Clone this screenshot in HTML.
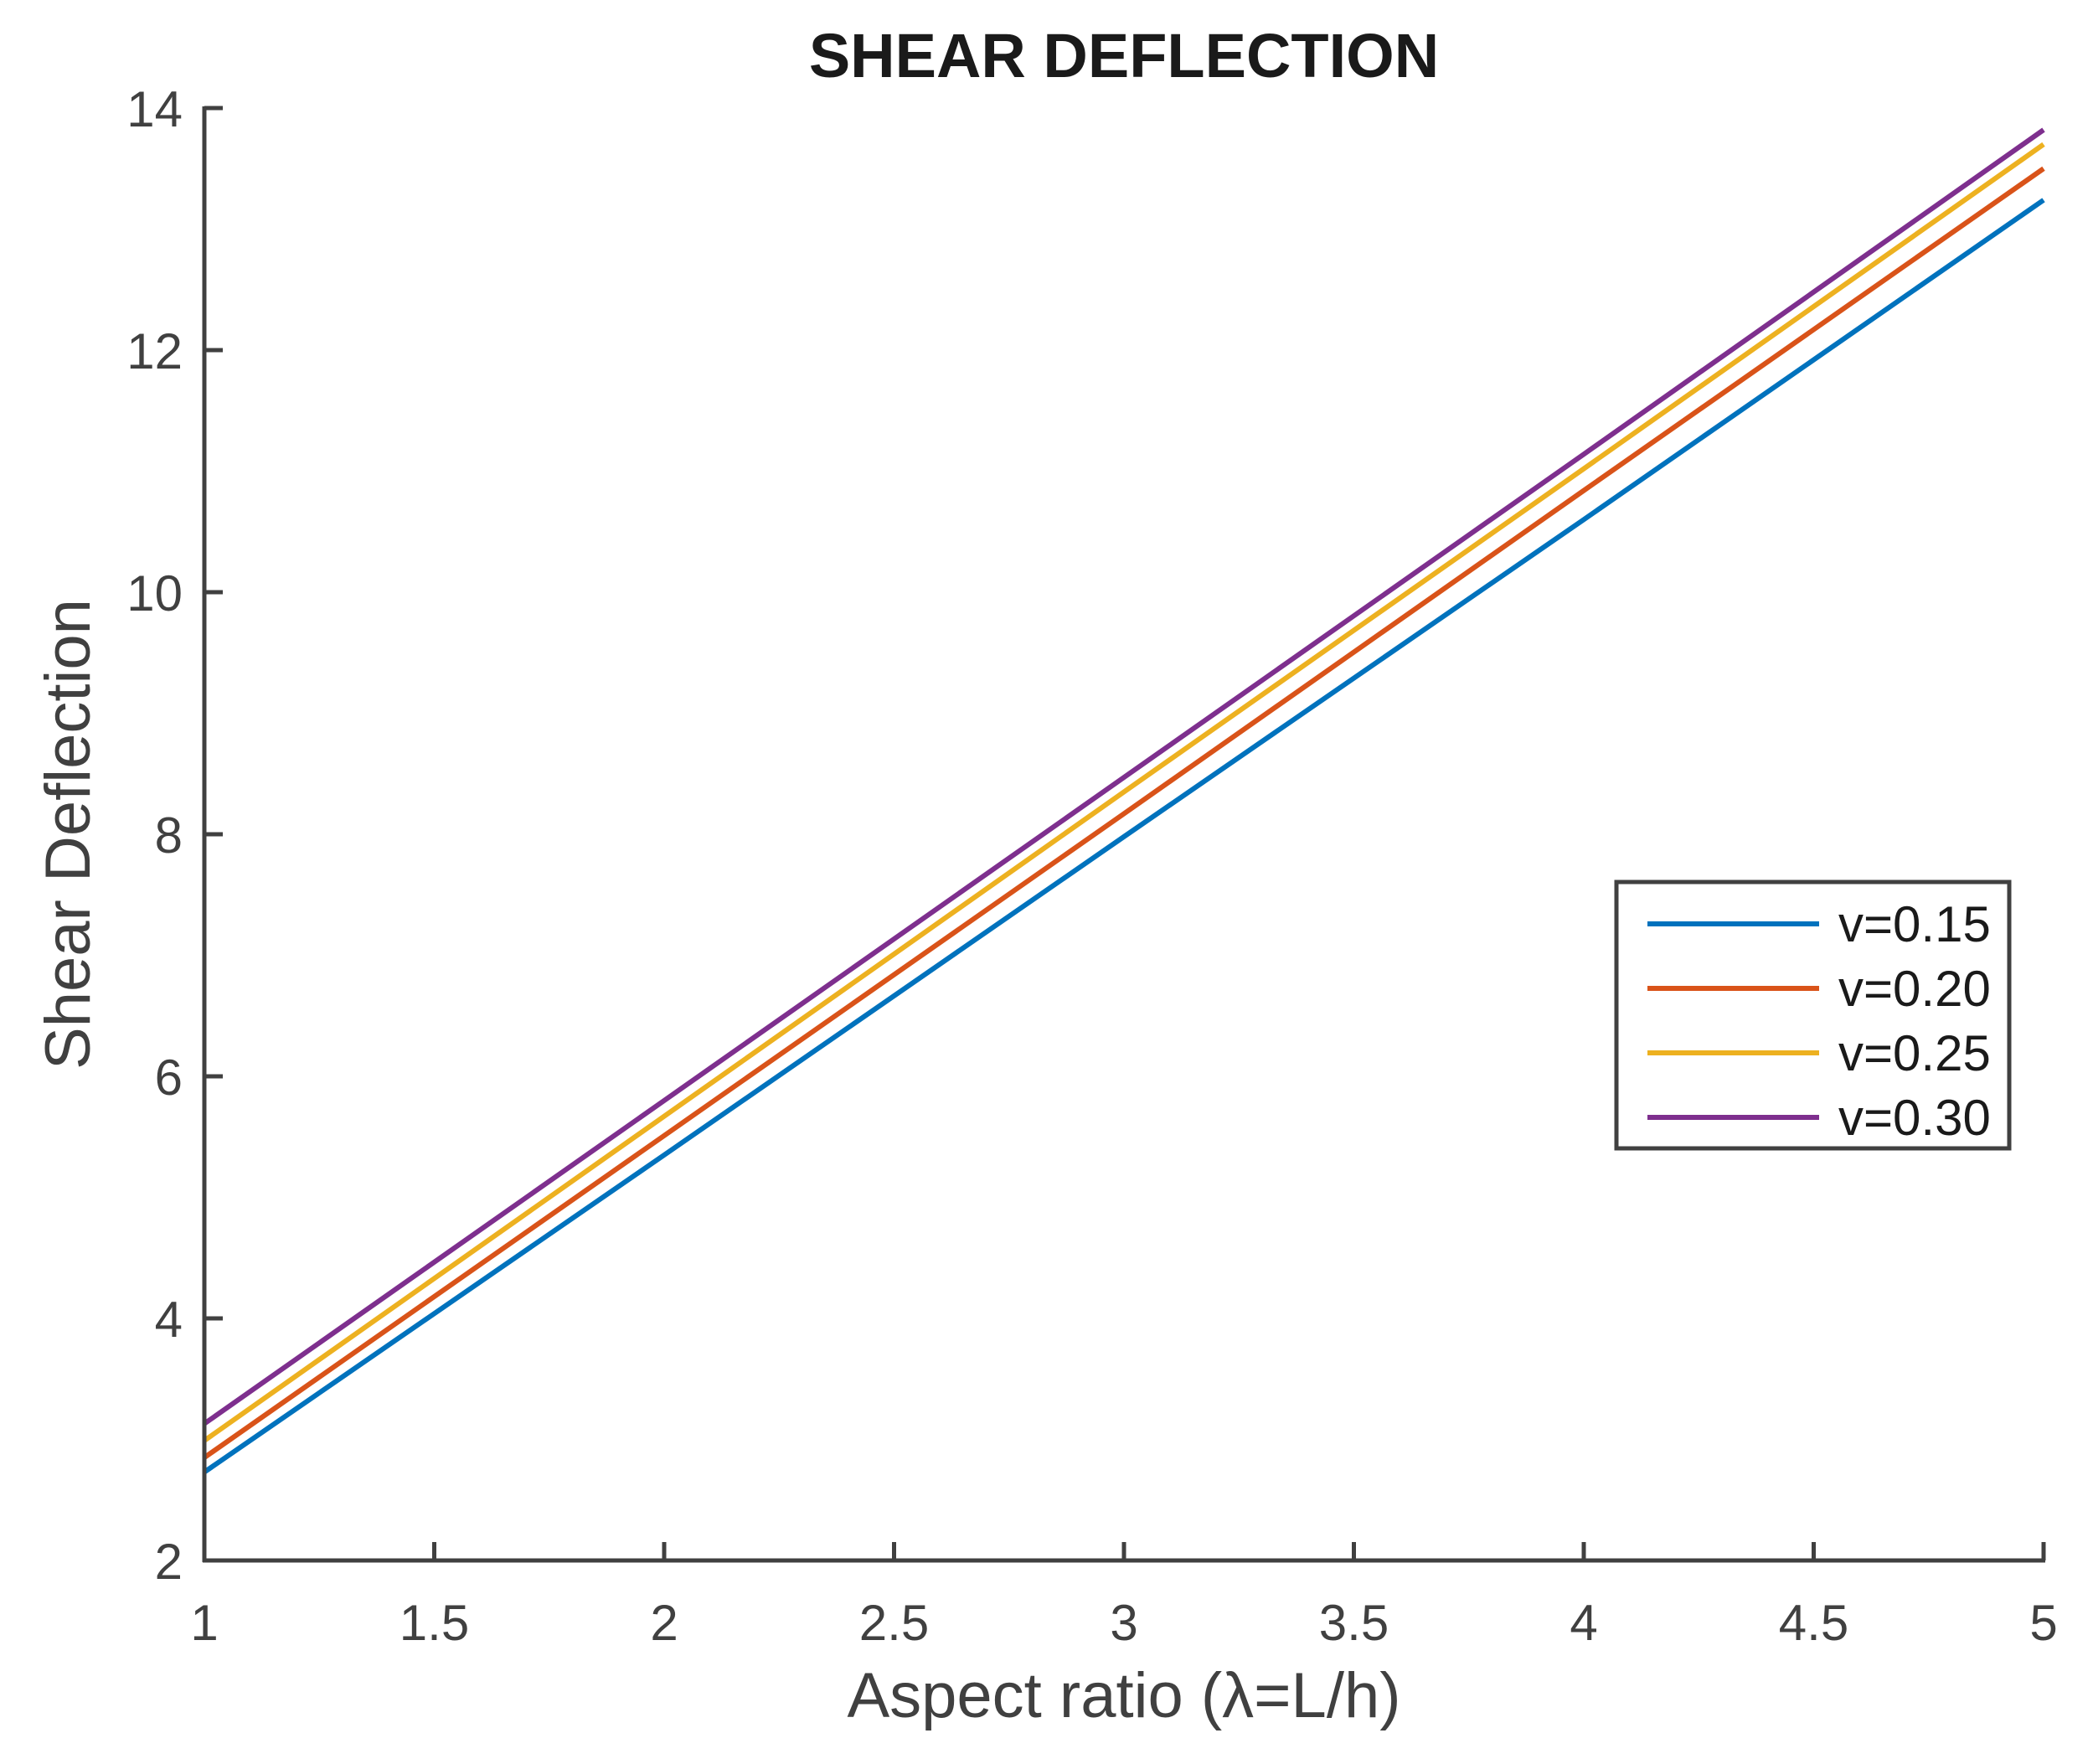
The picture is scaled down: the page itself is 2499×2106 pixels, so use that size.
<!DOCTYPE html>
<html><head><meta charset="utf-8"><style>
html,body{margin:0;padding:0;background:#fff;}
svg{display:block;font-family:"Liberation Sans",Arial,sans-serif;}
</style></head><body>
<svg id="chart" width="2499" height="2106" viewBox="0 0 2499 2106" xmlns="http://www.w3.org/2000/svg">
<rect width="2499" height="2106" fill="#fff"/>
<text x="1342" y="92" text-anchor="middle" font-size="74" font-weight="bold" fill="#1a1a1a">SHEAR DEFLECTION</text>
<text x="1342" y="2050" text-anchor="middle" font-size="76" fill="#404040">Aspect ratio (λ=L/h)</text>
<text transform="translate(107,996) rotate(-90)" text-anchor="middle" font-size="76" fill="#404040">Shear Deflection</text>
<g id="plot"></g>
</svg>
<script>
const xVals = [1, 2, 3, 4, 5];
const seriesNames = ["v=0.15", "v=0.20", "v=0.25", "v=0.30"];
const s015 = [2.73, 5.35, 7.98, 10.60, 13.24];
const s020 = [2.85, 5.51, 8.17, 10.84, 13.50];
const s025 = [2.99, 5.67, 8.35, 11.02, 13.70];
const s030 = [3.13, 5.80, 8.47, 11.14, 13.82];
const xTicks = [1, 1.5, 2, 2.5, 3, 3.5, 4, 4.5, 5];
const yTicks = [2, 4, 6, 8, 10, 12, 14];

const colors = ["#0072BD", "#D95319", "#EDB120", "#7E2F8E"];
const series = [s015, s020, s025, s030];
const L = 244, R = 2440, T = 129, B = 1863;
const xMin = 1, xMax = 5, yMin = 2, yMax = 14;
const xs = v => L + (v - xMin) / (xMax - xMin) * (R - L);
const ys = v => B - (v - yMin) / (yMax - yMin) * (B - T);
const NS = "http://www.w3.org/2000/svg";
const g = document.getElementById("plot");
function mk(tag, attrs, parent) {
  const e = document.createElementNS(NS, tag);
  for (const k in attrs) e.setAttribute(k, attrs[k]);
  (parent || g).appendChild(e);
  return e;
}
const axisColor = "#404040";

series.forEach((s, i) => {
  const p = mk("polyline", {points: s.map((v, j) => xs(xVals[j]) + "," + ys(v)).join(" "), fill: "none", stroke: colors[i], "stroke-width": 6});
  
  
});

const xa = mk("line", {x1: L - 2, y1: B, x2: R + 2, y2: B, stroke: axisColor, "stroke-width": 5});


const ya = mk("line", {x1: L, y1: B + 2, x2: L, y2: T - 2, stroke: axisColor, "stroke-width": 5});



xTicks.forEach(t => {
  const tk = mk("line", {x1: xs(t), y1: B, x2: xs(t), y2: B - 22, stroke: axisColor, "stroke-width": 5});
  
  
  const lb = mk("text", {x: xs(t), y: 1958, "text-anchor": "middle", "font-size": 60, fill: axisColor});
  lb.textContent = String(t);
  
  
});
yTicks.forEach(t => {
  const tk = mk("line", {x1: L, y1: ys(t), x2: L + 22, y2: ys(t), stroke: axisColor, "stroke-width": 5});
  
  
  const lb = mk("text", {x: 218, y: ys(t) + 22, "text-anchor": "end", "font-size": 60, fill: axisColor});
  lb.textContent = String(t);
  
  
});

const lg = mk("g", {});


mk("rect", {x: 1930, y: 1053, width: 469, height: 318, fill: "#fff", stroke: axisColor, "stroke-width": 5}, lg);
seriesNames.forEach((n, i) => {
  const cy = 1103 + i * 77;
  const e = mk("g", {}, lg);
  
  
  mk("line", {x1: 1967, y1: cy, x2: 2172, y2: cy, stroke: colors[i], "stroke-width": 6}, e);
  const tx = mk("text", {x: 2195, y: cy + 21, "font-size": 60, fill: "#1a1a1a"}, e);
  tx.textContent = n;
});
</script>
</body></html>
